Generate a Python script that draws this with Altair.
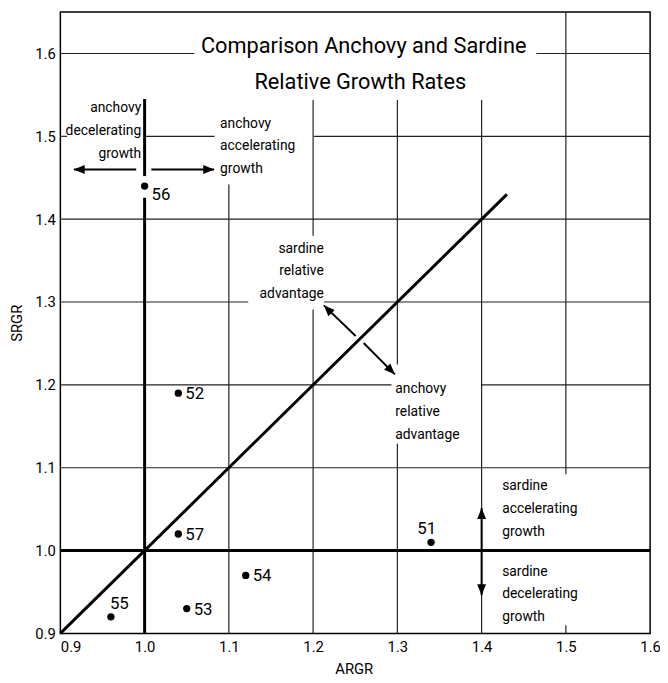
import altair as alt
import pandas as pd

# ---------------- data ----------------
years = ["51", "52", "53", "54", "55", "56", "57"]
argr = [1.34, 1.04, 1.05, 1.12, 0.96, 1.00, 1.04]
srgr = [1.01, 1.19, 0.93, 0.97, 0.92, 1.44, 1.02]

tick_values = [0.9, 1.0, 1.1, 1.2, 1.3, 1.4, 1.5, 1.6]

# partial grid lines (interrupted around the annotations)
vgrid_x = [1.1, 1.2, 1.2, 1.3, 1.3, 1.4, 1.5, 1.5]
vgrid_y1 = [0.9, 1.38, 0.9, 1.2246, 0.9, 0.9, 1.092, 0.9]
vgrid_y2 = [1.442, 1.544, 1.291, 1.544, 1.129, 1.544, 1.65, 0.91]

hgrid_y = [1.6, 1.6, 1.5, 1.5, 1.5, 1.4, 1.3, 1.3, 1.2, 1.2, 1.1]
hgrid_x1 = [0.9, 1.465, 0.9, 1.0, 1.201, 0.9, 0.9, 1.213, 0.9, 1.4, 0.9]
hgrid_x2 = [1.059, 1.6, 0.908, 1.083, 1.6, 1.6, 1.123, 1.6, 1.293, 1.6, 1.6]

# heavy reference lines (SRGR = 1, ARGR = 1, SRGR = ARGR)
heavy_x1 = [0.9, 1.0, 1.0, 0.9]
heavy_y1 = [1.0, 0.9, 1.452, 0.9]
heavy_x2 = [1.6, 1.0, 1.0, 1.43]
heavy_y2 = [1.0, 1.426, 1.545, 1.43]

# arrows
arrow_x1 = [0.99, 1.008, 1.4, 1.4, 1.2505, 1.260]
arrow_y1 = [1.46, 1.46, 1.0, 1.0, 1.259, 1.2505]
arrow_x2 = [0.916, 1.0825, 1.4, 1.4, 1.2127, 1.297]
arrow_y2 = [1.46, 1.46, 1.0513, 0.9462, 1.296, 1.2127]
arrow_dir = ["left", "right", "up", "down", "upleft", "downright"]

# annotations (anchored at their first line)
ann_left_text = ["anchovy\naccelerating\ngrowth",
                 "anchovy\nrelative\nadvantage",
                 "sardine\naccelerating\ngrowth",
                 "sardine\ndecelerating\ngrowth"]
ann_left_x = [1.0896, 1.2975, 1.4244, 1.4244]
ann_left_y = [1.5153, 1.1948, 1.0773, 0.9746]

ann_right_text = ["anchovy\ndecelerating\ngrowth",
                  "sardine\nrelative\nadvantage"]
ann_right_x = [0.996, 1.2127]
ann_right_y = [1.534, 1.3644]

title_lines = ["Comparison Anchovy and Sardine", "Relative Growth Rates"]
title_x = [1.26, 1.256]
title_y = [1.609, 1.565]

# ---------------- tables ----------------
pts = pd.DataFrame({"year": years, "argr": argr, "srgr": srgr})
vgrid = pd.DataFrame({"x": vgrid_x, "y": vgrid_y1, "y2": vgrid_y2})
hgrid = pd.DataFrame({"y": hgrid_y, "x": hgrid_x1, "x2": hgrid_x2})
heavy = pd.DataFrame({"x": heavy_x1, "y": heavy_y1, "x2": heavy_x2, "y2": heavy_y2})
angle_of = {"up": 0, "right": 90, "down": 180, "left": 270, "upleft": 315, "downright": 135}
arrows = pd.DataFrame({"x": arrow_x1, "y": arrow_y1, "x2": arrow_x2, "y2": arrow_y2,
                       "angle": [angle_of[d] for d in arrow_dir]})
ann_l = pd.DataFrame({"t": ann_left_text, "x": ann_left_x, "y": ann_left_y})
ann_r = pd.DataFrame({"t": ann_right_text, "x": ann_right_x, "y": ann_right_y})
ttl = pd.DataFrame({"t": title_lines, "x": title_x, "y": title_y})

FONT = "Roboto"
xs = alt.Scale(domain=[0.9, 1.6], nice=False, zero=False)
ys = alt.Scale(domain=[0.9, 1.65], nice=False, zero=False)

xaxis = alt.Axis(values=tick_values, format=".1f", ticks=False, domain=False, grid=False,
                 labelFont=FONT, labelFontSize=15, labelColor="black", labelPadding=6,
                 labelFlush=False, labelOverlap=False,
                 labelAlign={"condition": {"test": "datum.value < 0.95", "value": "left"},
                             "value": "center"},
                 title="ARGR", titleFont=FONT, titleFontSize=15, titleFontWeight="normal",
                 titleColor="black", titleX=297, titleY=36, titleBaseline="middle",
                 titleAlign="center")
yaxis = alt.Axis(values=tick_values, format=".1f", ticks=False, domain=False, grid=False,
                 labelFont=FONT, labelFontSize=15, labelColor="black", labelPadding=5,
                 labelFlush=False, labelOverlap=False,
                 title="SRGR", titleFont=FONT, titleFontSize=15, titleFontWeight="normal",
                 titleColor="black", titleX=-44.5, titleY=314.5, titleAngle=270,
                 titleBaseline="middle", titleAlign="center")


def X(f):
    return alt.X(f, type="quantitative", scale=xs, axis=xaxis)


def Y(f):
    return alt.Y(f, type="quantitative", scale=ys, axis=yaxis)


grid_v = alt.Chart(vgrid).mark_rule(color="#222", strokeWidth=1.2).encode(
    x=X("x"), y=Y("y"), y2="y2")
grid_h = alt.Chart(hgrid).mark_rule(color="#222", strokeWidth=1.2).encode(
    x=X("x"), x2="x2", y=Y("y"))
heavy_l = alt.Chart(heavy).mark_rule(color="black", strokeWidth=3).encode(
    x=X("x"), x2="x2", y=Y("y"), y2="y2")
shafts = alt.Chart(arrows).mark_rule(color="black", strokeWidth=2).encode(
    x=X("x"), x2="x2", y=Y("y"), y2="y2")
ARROW = "M0,0L-0.9,2.2L0.9,2.2Z"
heads = alt.Chart(arrows).mark_point(shape=ARROW, filled=True, size=100, color="black",
                                     opacity=1, strokeWidth=0).encode(
    x=X("x2"), y=Y("y2"), angle=alt.Angle("angle:Q", scale=None))

dots = alt.Chart(pts).mark_circle(size=55, color="black", opacity=1).encode(
    x=X("argr"), y=Y("srgr"))


def lab(sel, dx, dy):
    return alt.Chart(pts).transform_filter(
        alt.FieldOneOfPredicate(field="year", oneOf=sel)
    ).mark_text(align="left", baseline="middle", dx=dx, dy=dy, font=FONT,
                fontSize=17, color="black").encode(x=X("argr"), y=Y("srgr"), text="year")


lab_right = lab(["52", "53", "54", "57"], 7, 1)
lab_56 = lab(["56"], 7, 9)
lab_55 = lab(["55"], -1, -13)
lab_51 = lab(["51"], -14, -13)

ann_left = alt.Chart(ann_l).mark_text(align="left", baseline="middle", lineBreak="\n",
                                      lineHeight=23, font=FONT, fontSize=14,
                                      color="black").encode(x=X("x"), y=Y("y"), text="t")
ann_right = alt.Chart(ann_r).mark_text(align="right", baseline="middle", lineBreak="\n",
                                       lineHeight=23, font=FONT, fontSize=14,
                                       color="black").encode(x=X("x"), y=Y("y"), text="t")
title = alt.Chart(ttl).mark_text(align="center", baseline="middle", font=FONT, fontSize=22,
                                 color="black").encode(x=X("x"), y=Y("y"), text="t")

chart = alt.layer(
    grid_v, grid_h, heavy_l, shafts, heads, dots,
    lab_right, lab_56, lab_55, lab_51, ann_left, ann_right, title
).properties(
    width=597, height=629,
    autosize=alt.AutoSizeParams(type="none"),
    padding={"left": 53, "top": 0, "right": 10, "bottom": 40},
    background="white",
).configure_view(stroke="black", strokeWidth=1.5)

chart.save("out.html", embed_options={"renderer": "svg", "actions": False})
